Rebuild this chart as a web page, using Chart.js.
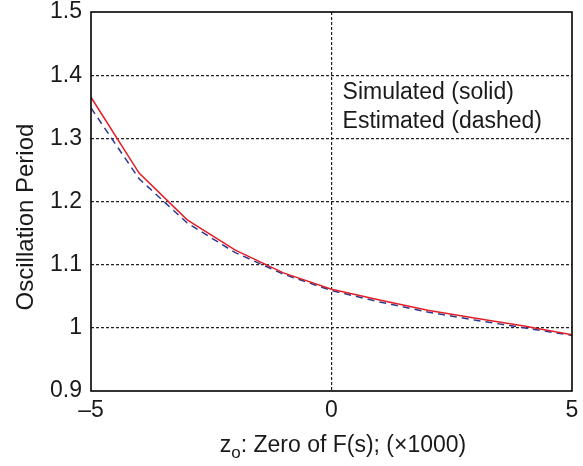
<!DOCTYPE html>
<html>
<head>
<meta charset="utf-8">
<script src="https://cdn.jsdelivr.net/npm/chart.js@4/dist/chart.umd.min.js"></script>
<style>
  html, body { margin: 0; padding: 0; background: #fff; }
  #wrap { width: 583px; height: 466px; }
</style>
</head>
<body>
<div id="wrap"><canvas id="chart" width="583" height="466"></canvas></div>
<script>
const zeroPos = [-5, -4, -3, -2, -1, 0, 1, 2, 3, 4, 5];
const simulated = [1.365, 1.245, 1.171, 1.123, 1.087, 1.061, 1.044, 1.028, 1.015, 1.003, 0.989];
const estimated = [1.348, 1.236, 1.166, 1.119, 1.085, 1.059, 1.041, 1.025, 1.012, 1.000, 0.988];
const yTicks = [0.9, 1, 1.1, 1.2, 1.3, 1.4, 1.5];
const xTicks = [-5, 0, 5];

const FONT = "'Liberation Sans', Arial, Helvetica, sans-serif";
const FS = 23;

function pts(ys) {
  return zeroPos.map((x, i) => ({ x, y: ys[i] }));
}

// frame, text notes and axis titles
const extras = {
  id: 'extras',
  afterDraw(chart) {
    const { ctx, chartArea: a, scales } = chart;
    ctx.save();
    ctx.strokeStyle = '#000';
    ctx.lineWidth = 1.6;
    ctx.setLineDash([]);
    ctx.strokeRect(a.left, a.top, a.right - a.left, a.bottom - a.top);

    ctx.fillStyle = '#1a1a1a';
    ctx.font = FS + 'px ' + FONT;
    ctx.textBaseline = 'middle';
    ctx.textAlign = 'left';
    const tx = scales.x.getPixelForValue(0.23);
    ctx.fillText('Simulated (solid)', tx, scales.y.getPixelForValue(1.372));
    ctx.fillText('Estimated (dashed)', tx, scales.y.getPixelForValue(1.326));

    // x title with subscript
    const parts = [['z', 0], ['o', 1], [': Zero of F(s); (\u00d71000)', 0]];
    const fontFor = p => (p[1] ? '17px ' : FS + 'px ') + FONT;
    let w = 0;
    parts.forEach(p => {
      ctx.font = fontFor(p);
      w += ctx.measureText(p[0]).width;
    });
    let x = 343 - w / 2;
    ctx.textBaseline = 'alphabetic';
    parts.forEach(p => {
      ctx.font = fontFor(p);
      ctx.fillText(p[0], x, p[1] ? 458 : 452);
      x += ctx.measureText(p[0]).width;
    });

    // y title
    ctx.font = '24px ' + FONT;
    ctx.translate(26, 217);
    ctx.rotate(-Math.PI / 2);
    ctx.textAlign = 'center';
    ctx.textBaseline = 'middle';
    ctx.fillText('Oscillation Period', 0, 0);
    ctx.restore();
  }
};

new Chart(document.getElementById('chart'), {
  type: 'line',
  data: {
    datasets: [
      {
        label: 'Simulated',
        data: pts(simulated),
        borderColor: '#e31e26',
        borderWidth: 1.5,
        pointRadius: 0,
        tension: 0,
        fill: false
      },
      {
        label: 'Estimated',
        data: pts(estimated),
        borderColor: '#2b3990',
        borderWidth: 1.5,
        borderDash: [7, 5],
        pointRadius: 0,
        tension: 0,
        fill: false
      }
    ]
  },
  options: {
    responsive: false,
    animation: false,
    layout: { padding: { top: 12, right: 11, left: 0, bottom: 0 } },
    plugins: { legend: { display: false }, tooltip: { enabled: false } },
    scales: {
      x: {
        type: 'linear',
        min: -5,
        max: 5,
        afterFit: s => { s.height = 75; s.paddingLeft = 0; s.paddingRight = 0; },
        afterBuildTicks: s => { s.ticks = xTicks.map(v => ({ value: v })); },
        ticks: {
          color: '#1a1a1a',
          font: { size: FS, family: FONT },
          padding: 6,
          maxRotation: 0,
          callback: v => String(v).replace('-', '\u2013')
        },
        grid: {
          color: c => (c.tick && c.tick.value === 0 ? '#222' : 'rgba(0,0,0,0)'),
          lineWidth: 1.2,
          drawTicks: false
        },
        border: { display: false, dash: [3, 2] }
      },
      y: {
        min: 0.9,
        max: 1.5,
        afterFit: s => { s.width = 91; s.paddingTop = 0; s.paddingBottom = 0; },
        afterBuildTicks: s => { s.ticks = yTicks.map(v => ({ value: v })); },
        ticks: {
          color: '#1a1a1a',
          font: { size: FS, family: FONT },
          padding: 9,
          callback: v => String(Math.round(v * 10) / 10)
        },
        grid: {
          color: c => (c.tick && (c.tick.value === 0.9 || c.tick.value === 1.5) ? 'rgba(0,0,0,0)' : '#222'),
          lineWidth: 1.2,
          drawTicks: false
        },
        border: { display: false, dash: [3, 2] }
      }
    }
  },
  plugins: [extras]
});
</script>
</body>
</html>
